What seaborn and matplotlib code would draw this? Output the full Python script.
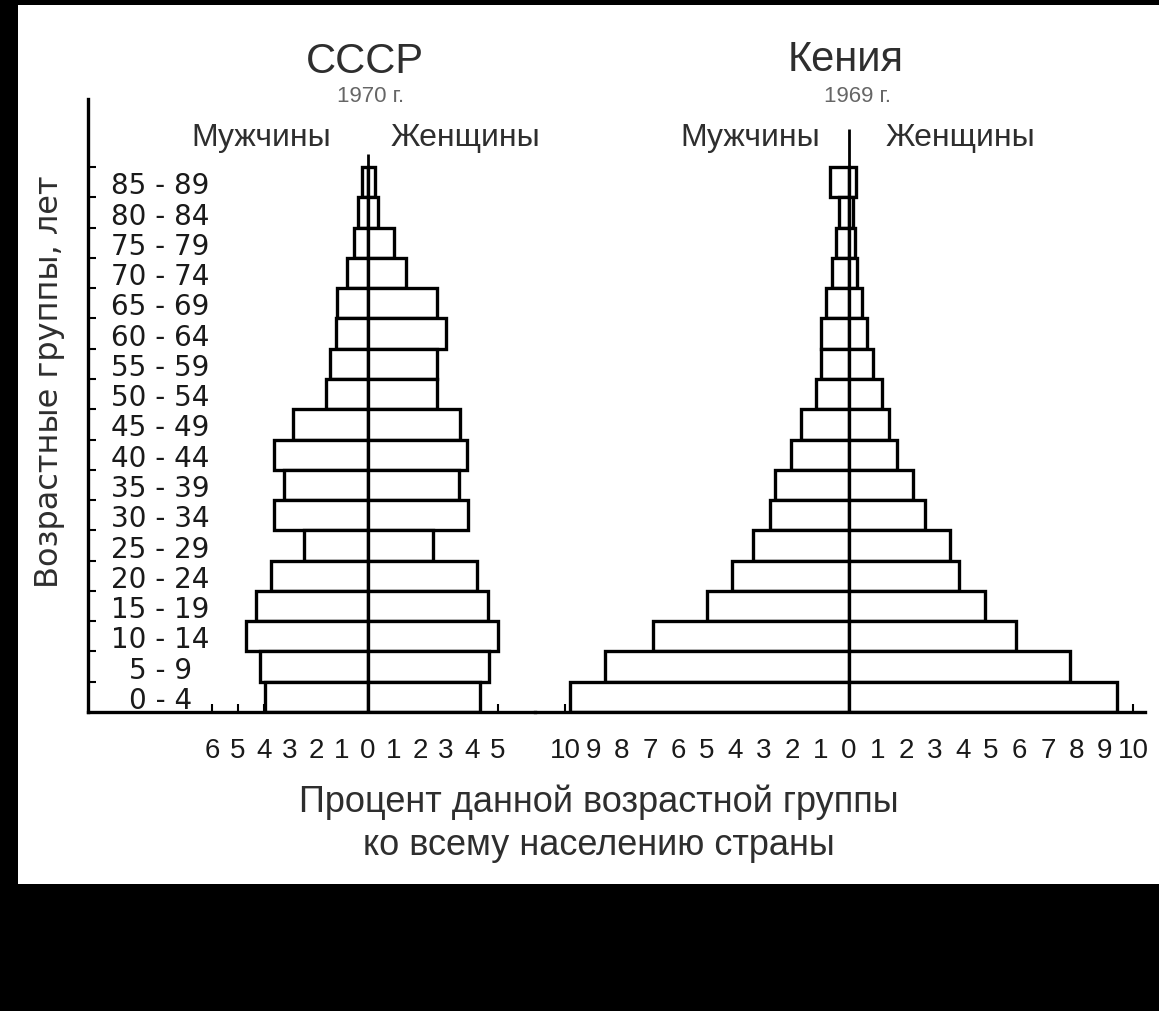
"""
Age-sex pyramids: USSR 1970 vs Kenya 1969.
"""

import numpy as np
import pandas as pd
import matplotlib
matplotlib.use("Agg")
import matplotlib.pyplot as plt
from matplotlib.patches import Rectangle
import seaborn as sns

# age groups, listed top -> bottom (seaborn puts the first category on top)
age_groups = ["85 - 89", "80 - 84", "75 - 79", "70 - 74", "65 - 69", "60 - 64",
              "55 - 59", "50 - 54", "45 - 49", "40 - 44", "35 - 39", "30 - 34",
              "25 - 29", "20 - 24", "15 - 19", "10 - 14", "5 - 9", "0 - 4"]

# percent of the whole population
ussr_men = [0.25, 0.38, 0.55, 0.8, 1.2, 1.25, 1.45, 1.6, 2.9, 3.6, 3.25, 3.6,
            2.45, 3.75, 4.3, 4.7, 4.15, 3.95]
ussr_women = [0.25, 0.4, 1.0, 1.45, 2.65, 3.0, 2.65, 2.65, 3.55, 3.8, 3.5, 3.85,
              2.5, 4.2, 4.6, 5.0, 4.65, 4.3]
kenya_men = [0.68, 0.35, 0.47, 0.6, 0.8, 0.98, 1.0, 1.15, 1.71, 2.03, 2.6, 2.77,
             3.4, 4.14, 5.0, 6.92, 8.6, 9.84]
kenya_women = [0.26, 0.14, 0.2, 0.28, 0.46, 0.62, 0.85, 1.15, 1.42, 1.68, 2.26, 2.67,
               3.56, 3.86, 4.79, 5.89, 7.78, 9.45]

ussr_ticks = list(range(-6, 6))
kenya_ticks = list(range(-10, 11))

sns.set_style("ticks")
plt.rcParams["font.family"] = ["Liberation Sans", "DejaVu Sans"]

W, H = 1159, 1012
fig = plt.figure(figsize=(W / 100, H / 100), dpi=100, facecolor="black")
# white sheet inside the black frame
fig.patches.append(Rectangle((18 / W, 1 - 885 / H), 1 - 18 / W, (885 - 6) / H,
                             transform=fig.transFigure, facecolor="white",
                             edgecolor="none", zorder=-10))

ax_bottom = 1 - 713 / H
ax_height = (713 - 100) / H
ax_u = fig.add_axes([88 / W, ax_bottom, (535 - 88) / W, ax_height])
ax_k = fig.add_axes([535 / W, ax_bottom, (1145 - 535) / W, ax_height])

LW = 2.4
n = len(age_groups)


def draw_pyramid(ax, men, women, stem_top):
    df = pd.DataFrame({"age": age_groups, "men": -np.array(men), "women": women})
    for col in ["men", "women"]:
        sns.barplot(data=df, x=col, y="age", order=age_groups, orient="h",
                    color="white", edgecolor="black", linewidth=LW, width=1.0,
                    saturation=1, ax=ax, zorder=2)
    ax.vlines(0, n - 0.5, stem_top, color="black", lw=2, zorder=3)
    ax.set_ylim(n - 0.5, -2.75)
    ax.set_facecolor("none")
    ax.set_xlabel("")
    ax.set_ylabel("")
    for s in ["top", "right"]:
        ax.spines[s].set_visible(False)
    ax.spines["bottom"].set_linewidth(LW)
    ax.spines["bottom"].set_color("black")


draw_pyramid(ax_u, ussr_men, ussr_women, -0.93)
draw_pyramid(ax_k, kenya_men, kenya_women, -1.75)

# USSR axis
ax_u.set_xlim(-10.77, 6.42)
ax_u.set_xticks(ussr_ticks)
ax_u.set_xticklabels([str(abs(t)) for t in ussr_ticks])
ax_u.spines["left"].set_linewidth(LW)
ax_u.spines["left"].set_color("black")
ax_u.set_yticks(range(n))
ax_u.set_yticklabels(age_groups, fontsize=20, family="DejaVu Sans", color="#1a1a1a")
ax_u.tick_params(axis="y", which="major", length=0, pad=-52)
for lbl in ax_u.get_yticklabels():
    lbl.set_ha("center")
ax_u.set_yticks(np.arange(-0.5, n - 1, 1.0), minor=True)
ax_u.tick_params(axis="y", which="minor", direction="in", length=6, width=1.5,
                 color="black")

# Kenya axis
ax_k.set_xlim(-11.06, 10.42)
ax_k.set_xticks(kenya_ticks)
ax_k.set_xticklabels([str(abs(t)) for t in kenya_ticks])
ax_k.spines["left"].set_visible(False)
ax_k.set_yticks([])

for ax in (ax_u, ax_k):
    ax.tick_params(axis="x", direction="in", length=6, width=1.5, pad=18,
                   labelsize=20, colors="black", labelcolor="#1a1a1a")

# titles and labels
tc = "#2e2e2e"
fig.text(365 / W, 1 - 62 / H, "СССР", fontsize=30, color=tc, ha="center", va="center")
fig.text(371 / W, 1 - 97 / H, "1970 г.", fontsize=16, color="#666666", ha="center", va="center")
fig.text(846 / W, 1 - 60 / H, "Кения", fontsize=30, color=tc, ha="center", va="center")
fig.text(857 / W, 1 - 97 / H, "1969 г.", fontsize=16, color="#666666", ha="center", va="center")
for x, s in [(261, "Мужчины"), (465, "Женщины"), (750, "Мужчины"), (960, "Женщины")]:
    fig.text(x / W, 1 - 138 / H, s, fontsize=23, color=tc, ha="center", va="center")

fig.text(50 / W, 1 - 382 / H, "Возрастные группы, лет", fontsize=23, family="DejaVu Sans",
         color=tc, rotation=90, ha="center", va="center")
fig.text(599 / W, 1 - 824 / H, "Процент данной возрастной группы\nко всему населению страны",
         fontsize=26, color=tc, ha="center", va="center", linespacing=1.3)

fig.savefig("out.png", dpi=100, facecolor=fig.get_facecolor())
